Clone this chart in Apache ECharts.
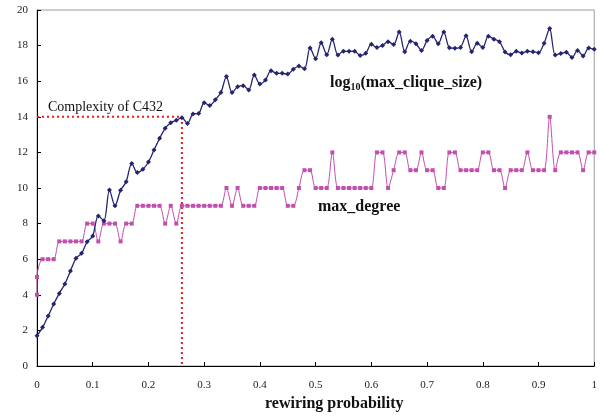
<!DOCTYPE html>
<html>
<head>
<meta charset="utf-8">
<script src="https://cdn.jsdelivr.net/npm/echarts@6/dist/echarts.min.js"></script>
<style>
html, body { margin: 0; padding: 0; background: #fff; }
#main { width: 600px; height: 416px; }
</style>
</head>
<body>
<div id="main"></div>
<script>
// rewiring probability of each sample
var prob = [
    0.00, 0.01, 0.02, 0.03, 0.04, 0.05, 0.06, 0.07, 0.08, 0.09,
    0.10, 0.11, 0.12, 0.13, 0.14, 0.15, 0.16, 0.17, 0.18, 0.19,
    0.20, 0.21, 0.22, 0.23, 0.24, 0.25, 0.26, 0.27, 0.28, 0.29,
    0.30, 0.31, 0.32, 0.33, 0.34, 0.35, 0.36, 0.37, 0.38, 0.39,
    0.40, 0.41, 0.42, 0.43, 0.44, 0.45, 0.46, 0.47, 0.48, 0.49,
    0.50, 0.51, 0.52, 0.53, 0.54, 0.55, 0.56, 0.57, 0.58, 0.59,
    0.60, 0.61, 0.62, 0.63, 0.64, 0.65, 0.66, 0.67, 0.68, 0.69,
    0.70, 0.71, 0.72, 0.73, 0.74, 0.75, 0.76, 0.77, 0.78, 0.79,
    0.80, 0.81, 0.82, 0.83, 0.84, 0.85, 0.86, 0.87, 0.88, 0.89,
    0.90, 0.91, 0.92, 0.93, 0.94, 0.95, 0.96, 0.97, 0.98, 0.99,
    1.00
];
// log10(max_clique_size)
var cliqueLog = [
    1.70, 2.17, 2.81, 3.48, 4.08, 4.61, 5.34, 6.05, 6.33, 6.98,
    7.30, 8.43, 8.16, 9.89, 9.00, 9.87, 10.35, 11.38, 10.87, 11.05,
    11.46, 12.13, 12.79, 13.35, 13.67, 13.80, 13.95, 13.63, 14.16, 14.19,
    14.79, 14.64, 14.96, 15.36, 16.26, 15.36, 15.69, 15.75, 15.51, 16.35,
    15.84, 16.07, 16.59, 16.44, 16.44, 16.40, 16.67, 16.85, 16.70, 17.87,
    17.26, 18.16, 17.49, 18.36, 17.47, 17.68, 17.68, 17.68, 17.45, 17.57,
    18.08, 17.89, 18.01, 18.22, 18.06, 18.77, 17.66, 18.25, 18.11, 17.73,
    18.28, 18.52, 18.11, 18.76, 17.88, 17.85, 17.90, 18.55, 17.66, 18.13,
    17.90, 18.53, 18.36, 18.22, 17.64, 17.49, 17.68, 17.58, 17.68, 17.66,
    17.60, 18.13, 18.96, 17.47, 17.56, 17.62, 17.33, 17.73, 17.42, 17.86,
    17.79
];
// max_degree
var maxDegree = [
    5, 6, 6, 6, 7, 7, 7, 7, 7, 8,
    8, 7, 8, 8, 8, 7, 8, 8, 9, 9,
    9, 9, 9, 8, 9, 8, 9, 9, 9, 9,
    9, 9, 9, 9, 10, 9, 10, 9, 9, 9,
    10, 10, 10, 10, 10, 9, 9, 10, 11, 11,
    10, 10, 10, 12, 10, 10, 10, 10, 10, 10,
    10, 12, 12, 10, 11, 12, 12, 11, 11, 12,
    11, 11, 10, 10, 12, 12, 11, 11, 11, 11,
    12, 12, 11, 11, 10, 11, 11, 11, 12, 11,
    11, 11, 14, 11, 12, 12, 12, 12, 11, 12,
    12
];
var degreeAtZero = 4;   // first sample at p = 0

// complexity of C432 marker
var c432Prob = 0.26;
var c432Level = 14;

var serif = '"Liberation Serif", "DejaVu Serif", serif';

var cliqueData = prob.map(function (p, i) { return [p, cliqueLog[i]]; });
var degreeData = [[0, degreeAtZero]].concat(prob.map(function (p, i) { return [p, maxDegree[i]]; }));

var myChart = echarts.init(document.getElementById('main'));
var option = {
    animation: false,
    backgroundColor: '#fff',
    grid: {
        left: 37, right: 3, top: 10, bottom: 50,
        show: true,
        borderColor: '#9a9a9a',
        borderWidth: 1
    },
    xAxis: {
        type: 'value',
        min: 0, max: 1, interval: 0.1,
        axisLine: { lineStyle: { color: '#000', width: 1 } },
        axisTick: { inside: true, length: 4, lineStyle: { color: '#000' } },
        axisLabel: { margin: 14, fontFamily: serif, fontSize: 11, color: '#222' },
        splitLine: { show: false }
    },
    yAxis: {
        type: 'value',
        min: 0, max: 20, interval: 2,
        axisLine: { show: true, lineStyle: { color: '#000', width: 1 } },
        axisTick: { show: true, inside: true, length: 4, lineStyle: { color: '#000' } },
        axisLabel: { margin: 9, fontFamily: serif, fontSize: 11, color: '#222' },
        splitLine: { show: false }
    },
    series: [
        {
            name: 'max_degree',
            type: 'line',
            data: degreeData,
            smooth: 0.3,
            symbol: 'rect',
            symbolSize: 4,
            itemStyle: { color: '#c24fae' },
            lineStyle: { color: '#c24fae', width: 1 }
        },
        {
            name: 'log10(max_clique_size)',
            type: 'line',
            data: cliqueData,
            smooth: 0.3,
            symbol: 'diamond',
            symbolSize: 5,
            itemStyle: { color: '#242470' },
            lineStyle: { color: '#242470', width: 1.3 }
        },
        {
            name: 'C432',
            type: 'line',
            data: [[0, c432Level], [c432Prob, c432Level], [c432Prob, 0]],
            symbol: 'none',
            z: 1,
            lineStyle: { color: '#ee1c1c', width: 2, type: [2, 3] }
        }
    ],
    graphic: [
        {
            type: 'text', left: 48, top: 100,
            style: { text: 'Complexity of C432', font: '14px ' + serif, fill: '#111' }
        },
        {
            type: 'text', left: 330, top: 75,
            style: {
                text: '{a|log}{s|10}{a|(max_clique_size)}',
                rich: {
                    a: { font: 'bold 16px ' + serif, fill: '#111' },
                    s: { font: 'bold 10px ' + serif, fill: '#111', padding: [8, 0, 0, 0] }
                }
            }
        },
        {
            type: 'text', left: 318, top: 199,
            style: { text: 'max_degree', font: 'bold 16px ' + serif, fill: '#111' }
        },
        {
            type: 'text', left: 265, top: 396,
            style: { text: 'rewiring probability', font: 'bold 16px ' + serif, fill: '#111' }
        }
    ]
};
myChart.setOption(option);
window.addEventListener('resize', function () {
    myChart.resize();
});
</script>
</body>
</html>
